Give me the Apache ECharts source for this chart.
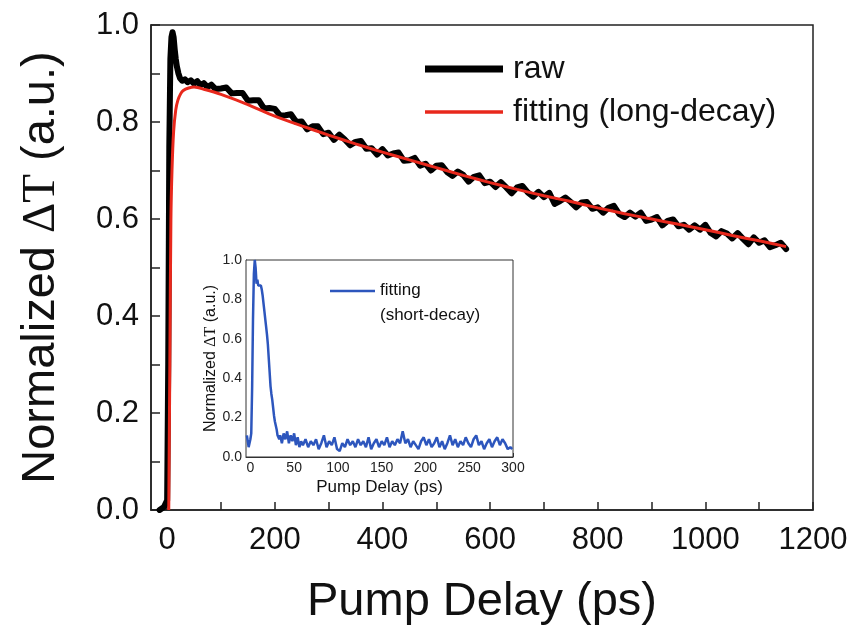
<!DOCTYPE html>
<html>
<head>
<meta charset="utf-8">
<script src="https://cdn.jsdelivr.net/npm/echarts@6/dist/echarts.min.js"></script>
<style>html,body{margin:0;padding:0;background:#fff;}#c{width:853px;height:631px;}</style>
</head>
<body>
<div id="c"></div>
<script>
// ---- main panel data ----
const rawT = [-14,-10,-6,-3,0,2,4,6,8,10,12,14,16,18,21,24,28,33,38,44,50,56,62,68,75,82,90,
 100,110,120,130,140,150,160,170,180,190,200,210,220,230,240,250,260,270,280,290,
 300,310,320,330,340,350,360,370,380,390,400,410,420,430,440,450,460,470,480,490,
 500,510,520,530,540,550,560,570,580,590,600,610,620,630,640,650,660,670,680,690,
 700,710,720,730,740,750,760,770,780,790,800,810,820,830,840,850,860,870,880,890,
 900,910,920,930,940,950,960,970,980,990,1000,1010,1020,1030,1040,1050,1060,1070,1080,1090,
 1100,1110,1120,1130,1140,1150];
const rawV = [0.0,0.003,0.006,0.01,0.02,0.3,0.75,0.93,0.975,0.985,0.975,0.95,0.93,0.915,0.9,0.89,0.885,0.888,0.882,0.886,0.879,0.884,0.876,0.88,0.872,0.877,0.868,
 0.869,0.871,0.859,0.860,0.860,0.844,0.845,0.845,0.828,0.829,0.827,0.813,0.814,0.816,0.800,0.801,0.785,0.791,0.791,0.775,
 0.778,0.763,0.774,0.764,0.752,0.759,0.761,0.745,0.746,0.733,0.744,0.731,0.735,0.737,0.720,0.721,0.726,0.710,0.714,0.700,
 0.710,0.711,0.697,0.689,0.698,0.691,0.677,0.687,0.690,0.674,0.677,0.666,0.676,0.665,0.653,0.665,0.668,0.655,0.646,0.656,
 0.645,0.654,0.631,0.637,0.644,0.635,0.624,0.634,0.635,0.621,0.624,0.613,0.623,0.627,0.610,0.604,0.613,0.605,0.613,0.596,
 0.599,0.604,0.587,0.596,0.599,0.585,0.588,0.578,0.587,0.578,0.588,0.571,0.564,0.575,0.570,0.560,0.571,0.559,0.548,0.562,
 0.551,0.556,0.542,0.546,0.551,0.538];
const fitT = [3,5,7,9,12,16,20,25,30,40,50,70,100,150,200,250,300,350,400,450,500,550,600,650,700,750,800,850,900,950,1000,1050,1100,1150];
const fitV = [0,0.3,0.6,0.7,0.78,0.825,0.845,0.858,0.865,0.87,0.872,0.867,0.857,0.836,0.812,0.792,0.773,0.755,0.738,0.722,0.706,0.69,0.675,0.661,0.648,0.636,0.623,0.611,0.6,0.589,0.578,0.566,0.555,0.543];
const mainXTicks = [0,100,200,300,400,500,600,700,800,900,1000,1100,1200];
const mainXLabels = [0,200,400,600,800,1000,1200];
const mainYTicks = [0,0.1,0.2,0.3,0.4,0.5,0.6,0.7,0.8,0.9,1.0];
const mainYLabels = [0,0.2,0.4,0.6,0.8,1.0];
// ---- inset data ----
const insetT = [-4,-2,0,1,2,3,4,5,6,7,8,9,10,11,12,13,14,15,16,17,18,19,20,21,22,23,24,25,26,27,28,29,30,31,32,33,34,36,38,40,42,44,46,48,50,52,54,56,58,60,
 63,66,69,72,75,78,81,84,87,90,93,96,99,102,105,108,111,114,117,120,123,126,129,132,135,138,141,144,147,150,
 153,156,159,162,165,168,171,174,177,180,183,186,189,192,195,198,201,204,207,210,213,216,219,222,225,228,231,234,237,240,
 243,246,249,252,255,258,261,264,267,270,273,276,279,282,285,288,291,294,297,299];
const insetV = [0.11,0.05,0.09,0.12,0.35,0.7,0.93,1.0,0.96,0.88,0.9,0.87,0.88,0.86,0.87,0.85,0.82,0.78,0.74,0.7,0.66,0.62,0.57,0.5,0.43,0.36,0.32,0.29,0.25,0.21,0.18,0.16,0.14,0.11,0.12,0.09,0.11,0.07,0.12,0.09,0.13,0.07,0.11,0.08,0.12,0.06,0.1,0.05,0.08,0.06,
 0.09,0.05,0.08,0.06,0.09,0.04,0.07,0.11,0.05,0.08,0.06,0.1,0.04,0.03,0.07,0.05,0.09,0.06,0.08,0.05,0.09,0.06,0.08,0.05,0.1,0.04,0.07,0.09,0.05,0.08,
 0.06,0.1,0.05,0.08,0.06,0.09,0.07,0.13,0.07,0.09,0.05,0.08,0.06,0.04,0.08,0.1,0.06,0.09,0.05,0.07,0.1,0.05,0.08,0.04,0.07,0.11,0.06,0.09,0.05,0.08,
 0.06,0.1,0.07,0.05,0.09,0.11,0.06,0.08,0.04,0.07,0.09,0.05,0.08,0.1,0.06,0.09,0.07,0.04,0.05,0.04];
const insetXTicks = [0,25,50,75,100,125,150,175,200,225,250,275,300];
const insetXLabels = [0,50,100,150,200,250,300];
const insetYTicks = [0,0.1,0.2,0.3,0.4,0.5,0.6,0.7,0.8,0.9,1.0];
const insetYLabels = [0,0.2,0.4,0.6,0.8,1.0];

const FONT = "'Liberation Sans', Arial, sans-serif";
const SERIF = "'Liberation Serif', 'Times New Roman', serif";
const zip = (a, b) => a.map((t, i) => [t, b[i]]);
const lineC = '#222';

const chart = echarts.init(document.getElementById('c'), null, {renderer: 'canvas'});
chart.setOption({
  animation: false,
  backgroundColor: '#fff',
  textStyle: {fontFamily: FONT, color: '#111'},
  grid: [
    {left: 151, top: 25, width: 662, height: 488, show: true, borderColor: lineC, borderWidth: 1.5, backgroundColor: 'transparent', containLabel: false},
    {left: 246, top: 260, width: 267, height: 197, show: true, borderColor: '#333', borderWidth: 1, backgroundColor: '#fff', containLabel: false, z: 5}
  ],
  legend: [
    {left: 420, top: 48, itemWidth: 78, itemHeight: 7, icon: 'rect', data: ['raw'],
     textStyle: {fontSize: 32, fontFamily: FONT, color: '#111', padding: [0,0,0,5]}},
    {left: 420, top: 91, itemWidth: 78, itemHeight: 3.5, icon: 'rect', data: ['fitting (long-decay)'],
     textStyle: {fontSize: 32, fontFamily: FONT, color: '#111', padding: [0,0,0,5]}},
    {left: 325, top: 277, itemWidth: 45, itemHeight: 2.5, icon: 'rect', data: ['fitting (short-decay)'], z: 10,
     formatter: function (n) { return '{a|fitting}\n{b|(short-decay)}'; },
     textStyle: {fontSize: 17, fontFamily: FONT, color: '#111',
       rich: {a: {fontSize: 17, fontFamily: FONT, color: '#111', lineHeight: 48},
              b: {fontSize: 17, fontFamily: FONT, color: '#111', lineHeight: 1}}}}
  ],
  xAxis: [
    {type: 'value', gridIndex: 0, min: -30, max: 1200,
     axisLine: {show: true, onZero: false, lineStyle: {color: lineC, width: 1.5}},
     axisTick: {show: true, inside: true, length: 8, customValues: mainXTicks, lineStyle: {color: lineC, width: 1.5}},
     axisLabel: {customValues: mainXLabels, fontSize: 31, fontFamily: FONT, color: '#111', margin: 15,
                 formatter: v => String(v)},
     splitLine: {show: false},
     name: 'Pump Delay (ps)', nameLocation: 'middle', nameGap: 69,
     nameTextStyle: {fontSize: 47, fontFamily: FONT, color: '#111'}},
    {type: 'value', gridIndex: 1, min: -5, max: 300,
     axisLine: {show: true, onZero: false, lineStyle: {color: '#333', width: 1}},
     axisTick: {show: true, inside: true, length: 4, customValues: insetXTicks, lineStyle: {color: '#333'}},
     axisLabel: {customValues: insetXLabels, fontSize: 14, fontFamily: FONT, color: '#222', margin: 4,
                 formatter: v => String(v)},
     splitLine: {show: false},
     name: 'Pump Delay (ps)', nameLocation: 'middle', nameGap: 22,
     nameTextStyle: {fontSize: 17, fontFamily: FONT, color: '#111'}}
  ],
  yAxis: [
    {type: 'value', gridIndex: 0, min: 0, max: 1,
     axisLine: {show: true, onZero: false, lineStyle: {color: lineC, width: 1.5}},
     axisTick: {show: true, inside: true, length: 9, customValues: mainYTicks, lineStyle: {color: lineC, width: 1.5}},
     axisLabel: {customValues: mainYLabels, fontSize: 31, fontFamily: FONT, color: '#111', margin: 12,
                 formatter: v => v.toFixed(1)},
     splitLine: {show: false},
     name: '{t|Normalized }{d|ΔT}{t| (a.u.)}', nameLocation: 'middle', nameGap: 86,
     nameTextStyle: {fontSize: 47, fontFamily: FONT, color: '#111',
       rich: {t: {fontSize: 47, fontFamily: FONT, color: '#111'}, d: {fontSize: 47, fontFamily: SERIF, color: '#111'}}}},
    {type: 'value', gridIndex: 1, min: 0, max: 1,
     axisLine: {show: true, onZero: false, lineStyle: {color: '#333', width: 1}},
     axisTick: {show: true, inside: true, length: 4, customValues: insetYTicks, lineStyle: {color: '#333'}},
     axisLabel: {customValues: insetYLabels, fontSize: 14, fontFamily: FONT, color: '#222', margin: 4,
                 formatter: v => v.toFixed(1)},
     splitLine: {show: false},
     name: '{t|Normalized }{d|ΔT}{t| (a.u.)}', nameLocation: 'middle', nameGap: 26,
     nameTextStyle: {fontSize: 16, fontFamily: FONT, color: '#111',
       rich: {t: {fontSize: 16, fontFamily: FONT, color: '#111'}, d: {fontSize: 16, fontFamily: SERIF, color: '#111'}}}}
  ],
  series: [
    {name: 'raw', type: 'line', xAxisIndex: 0, yAxisIndex: 0, data: zip(rawT, rawV),
     showSymbol: false, symbol: 'none', color: '#000', lineStyle: {color: '#000', width: 6, join: 'round', cap: 'round'}, z: 2},
    {name: 'fitting (long-decay)', type: 'line', xAxisIndex: 0, yAxisIndex: 0, data: zip(fitT, fitV),
     showSymbol: false, symbol: 'none', smooth: 0.3, color: '#e8281c', lineStyle: {color: '#e8281c', width: 3}, z: 3},
    {name: 'fitting (short-decay)', type: 'line', xAxisIndex: 1, yAxisIndex: 1, data: zip(insetT, insetV),
     showSymbol: false, symbol: 'none', color: '#2d56bd', lineStyle: {color: '#2d56bd', width: 2.5}, z: 6}
  ]
});
</script>
</body>
</html>
